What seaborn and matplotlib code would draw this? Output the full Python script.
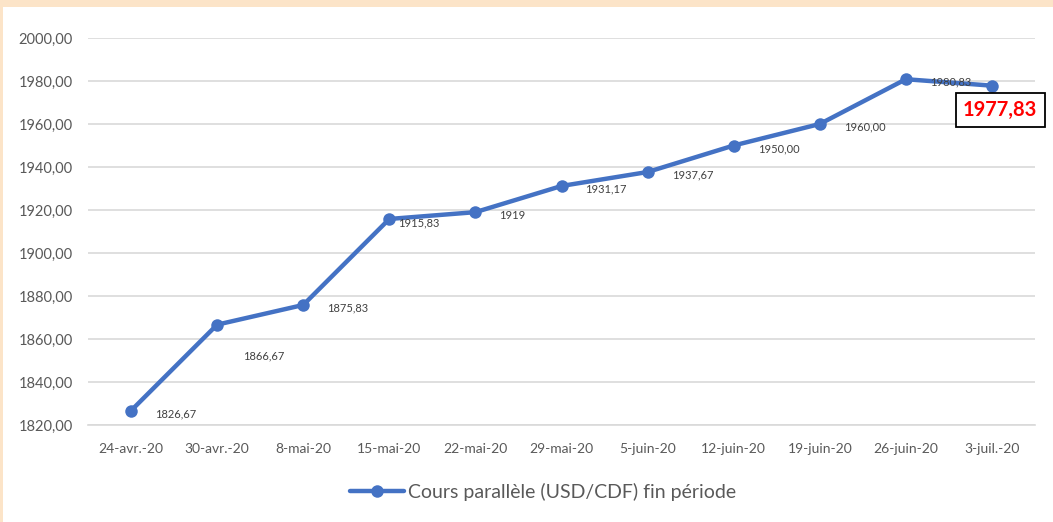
import matplotlib
matplotlib.use("Agg")
import matplotlib.pyplot as plt
import seaborn as sns
import pandas as pd
from matplotlib.patches import Rectangle

categories = ["24-avr.-20", "30-avr.-20", "8-mai-20", "15-mai-20", "22-mai-20",
              "29-mai-20", "5-juin-20", "12-juin-20", "19-juin-20", "26-juin-20", "3-juil.-20"]
values = [1826.67, 1866.67, 1875.83, 1915.83, 1919.00, 1931.17, 1937.67,
          1950.00, 1960.00, 1980.83, 1977.83]
value_labels = ["1826,67", "1866,67", "1875,83", "1915,83", "1919", "1931,17",
                "1937,67", "1950,00", "1960,00", "1980,83", "1977,83"]
series_name = "Cours parallèle (USD/CDF) fin période"
y_ticks = [1820, 1840, 1860, 1880, 1900, 1920, 1940, 1960, 1980, 2000]

sns.set_theme(style="white")
plt.rcParams["font.family"] = ["Lato", "DejaVu Sans"]

df = pd.DataFrame({"date": categories, "value": values, "pos": range(len(categories))})

fig = plt.figure(figsize=(10.53, 5.22), dpi=100, facecolor="#FCE4C8")
fig.patches.append(Rectangle((3 / 1053, 0), 1, 1 - 7 / 522, transform=fig.transFigure,
                             facecolor="white", edgecolor="none", zorder=-10))
ax = fig.add_axes([88 / 1053, 97 / 522, (1035 - 88) / 1053, (425 - 38) / 522])
ax.set_zorder(2)
ax.set_facecolor("white")

blue = "#4472C4"
sns.lineplot(data=df, x="pos", y="value", ax=ax, color=blue, linewidth=3.2,
             marker="o", markersize=9, markeredgewidth=0, label=series_name, legend=False)

ax.set_xlim(-0.5, len(categories) - 0.5)
ax.set_ylim(1820, 2000)
ax.set_yticks(y_ticks)
ax.set_yticklabels([f"{v:.2f}".replace(".", ",") for v in y_ticks], fontsize=10.5, color="#595959")
ax.set_xticks(range(len(categories)))
ax.set_xticklabels(categories, fontsize=10, color="#595959")
ax.set_xticks([i - 0.5 for i in range(len(categories) + 1)], minor=True)
ax.tick_params(axis="x", which="major", length=0, pad=13)
ax.tick_params(axis="x", which="minor", length=5, color="#BFBFBF", width=1)
ax.tick_params(axis="y", length=0, pad=11)
ax.grid(axis="y", color="#D9D9D9", linewidth=1.2)
ax.set_axisbelow(True)
for s in ["left", "right", "top"]:
    ax.spines[s].set_visible(False)
ax.spines["bottom"].set_color("#D9D9D9")
ax.spines["bottom"].set_linewidth(1.2)
ax.set_xlabel("")
ax.set_ylabel("")

offsets = {1: (26, -31), 3: (9, -4)}
for i, (v, lab) in enumerate(zip(values[:-1], value_labels[:-1])):
    dx, dy = offsets.get(i, (24, -3))
    ax.annotate(lab, (i, v), xytext=(dx * 0.72, dy * 0.72), textcoords="offset points",
                fontsize=8, color="#404040", ha="left", va="center")

ax.annotate(value_labels[-1], (len(values) - 1, values[-1]), xytext=(6, -17.5),
            textcoords="offset points", fontsize=14.5, fontweight="bold", color="#FF0000",
            ha="center", va="center",
            bbox=dict(boxstyle="square,pad=0.35", facecolor="white", edgecolor="black", linewidth=1.3))

handles, labels = ax.get_legend_handles_labels()
fig.legend(handles, labels, loc="center", bbox_to_anchor=(543 / 1053, 1 - 492 / 522),
           frameon=False, fontsize=14, handlelength=2.8, handletextpad=0.2,
           labelcolor="#595959")

fig.savefig("out.png", dpi=100, facecolor=fig.get_facecolor())
